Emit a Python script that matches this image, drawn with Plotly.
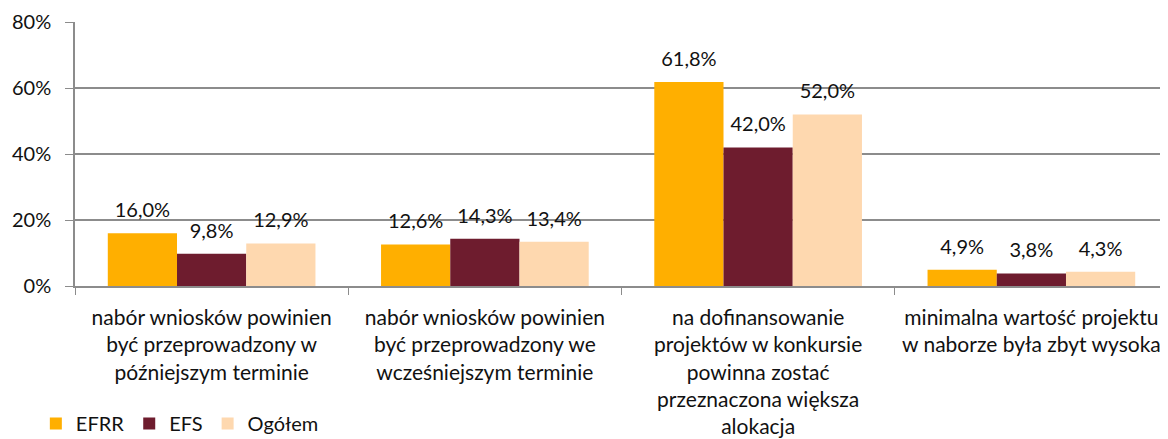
import plotly.graph_objects as go

categories = [
    "nabór wniosków powinien<br>być przeprowadzony w<br>późniejszym terminie",
    "nabór wniosków powinien<br>być przeprowadzony we<br>wcześniejszym terminie",
    "na dofinansowanie<br>projektów w konkursie<br>powinna zostać<br>przeznaczona większa<br>alokacja",
    "minimalna wartość projektu<br>w naborze była zbyt wysoka",
]
efrr = [16.0, 12.6, 61.8, 4.9]
efs = [9.8, 14.3, 42.0, 3.8]
ogolem = [12.9, 13.4, 52.0, 4.3]

series = [("EFRR", efrr, "#FFAF00"), ("EFS", efs, "#6E1C2E"), ("Ogółem", ogolem, "#FED8AF")]

FONT = "Lato, 'Open Sans', sans-serif"
GAP = 0.24

fig = go.Figure()
for name, vals, col in series:
    fig.add_trace(go.Bar(
        name=name, x=categories, y=vals, marker_color=col, marker_line_width=0,
    ))
for name, vals, col in series:
    fig.add_trace(go.Scatter(
        name=name + " etykiety", x=categories, y=vals, mode="markers+text",
        marker=dict(size=16, opacity=0), showlegend=False, hoverinfo="skip",
        text=[f"{v:.1f}%".replace(".", ",") for v in vals],
        textposition="top center", cliponaxis=False,
        textfont=dict(size=20, color="#111", family=FONT),
    ))

# page body has an 8px default margin, so the figure is 8px smaller
fig.update_layout(
    width=1160, height=431,
    margin=dict(l=67, r=0, t=14, b=153),
    barmode="group", bargap=GAP, bargroupgap=0,
    scattermode="group", scattergap=GAP,
    plot_bgcolor="white", paper_bgcolor="white",
    font=dict(family=FONT, size=20, color="#111"),
    legend=dict(orientation="h", xref="container", yref="container", x=0.024, y=0.036,
                xanchor="left", yanchor="middle", font=dict(size=20), itemwidth=30,
                traceorder="normal", bgcolor="rgba(0,0,0,0)"),
    showlegend=True,
)
fig.update_yaxes(range=[0, 80], tickvals=[0, 20, 40, 60, 80], ticktext=["0%", "20%", "40%", "60%", "80%"],
                 showgrid=True, gridcolor="#8C8C8C", gridwidth=1.5, showline=True, linecolor="#8C8C8C",
                 linewidth=1.5, ticks="outside", ticklen=8, tickcolor="#8C8C8C", zeroline=False,
                 tickfont=dict(size=20), automargin=False, ticklabelstandoff=10)
fig.update_xaxes(showline=True, linecolor="#8C8C8C", linewidth=1.5, ticks="outside", tickson="boundaries",
                 ticklen=7, tickcolor="#8C8C8C", tickangle=0, tickfont=dict(size=21),
                 automargin=False, ticklabelstandoff=12)

fig.write_html("out.html")
